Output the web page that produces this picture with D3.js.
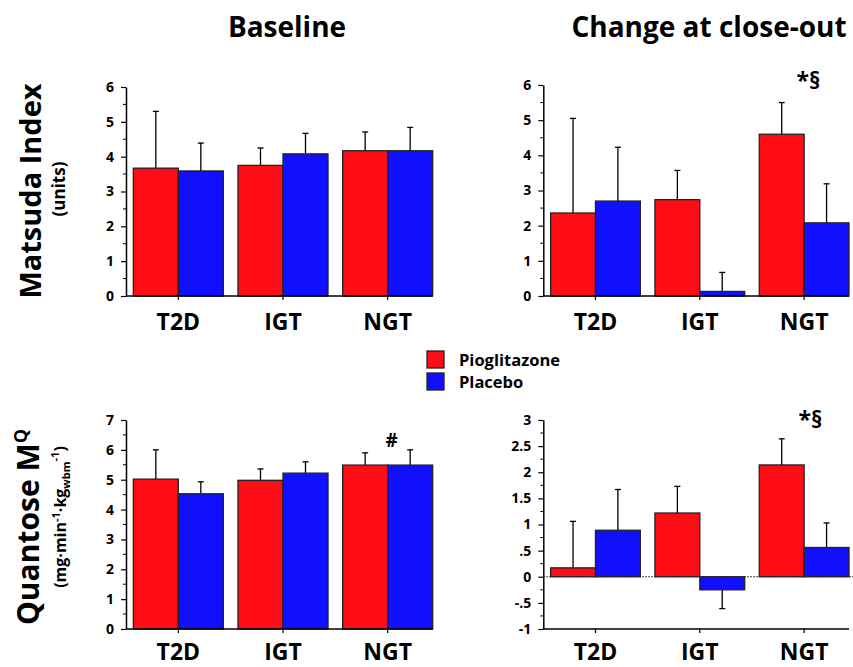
<!DOCTYPE html>
<html>
<head>
<meta charset="utf-8">
<script src="https://cdn.jsdelivr.net/npm/d3@7"></script>
<style>
  body { margin: 0; background: #fff; }
  text { font-family: "Open Sans", "Noto Sans", sans-serif; font-weight: bold; fill: #000; }
</style>
</head>
<body>
<script>
// data
var groups = ["T2D", "IGT", "NGT"];
var series = ["Pioglitazone", "Placebo"];
var colors = ["#ff0d17", "#1010ff"];

// Matsuda index (units)
var matsudaBasePio = [3.67, 3.75, 4.17];
var matsudaBasePioErr = [5.30, 4.25, 4.71];
var matsudaBasePla = [3.59, 4.08, 4.17];
var matsudaBasePlaErr = [4.39, 4.67, 4.84];

var matsudaChgPio = [2.36, 2.74, 4.60];
var matsudaChgPioErr = [5.05, 3.57, 5.50];
var matsudaChgPla = [2.70, 0.13, 2.08];
var matsudaChgPlaErr = [4.23, 0.67, 3.19];

// Quantose MQ
var quantBasePio = [5.02, 4.98, 5.49];
var quantBasePioErr = [6.00, 5.36, 5.90];
var quantBasePla = [4.53, 5.22, 5.49];
var quantBasePlaErr = [4.93, 5.60, 6.00];

var quantChgPio = [0.17, 1.22, 2.14];
var quantChgPioErr = [1.06, 1.73, 2.64];
var quantChgPla = [0.89, -0.25, 0.56];
var quantChgPlaErr = [1.67, -0.61, 1.03];

var matsudaTicks = [0, 1, 2, 3, 4, 5, 6];
var quantBaseTicks = [0, 1, 2, 3, 4, 5, 6, 7];
var quantChgTicks = [-1, -0.5, 0, 0.5, 1, 1.5, 2, 2.5, 3];

var w = 853, h = 667;

var svg = d3.select("body").append("svg")
    .attr("width", w)
    .attr("height", h);

function fmt(v)
{
    // ".5" style labels as in the original
    var s = String(v);
    return s.replace(/^0\./, ".").replace(/^-0\./, "-.");
}

function panel(opt)
{
    var x = d3.scaleBand()
        .domain(groups)
        .range([opt.x0, opt.x1])
        .paddingInner(0.14)
        .paddingOuter(0.07);

    var xs = d3.scaleBand()
        .domain(series)
        .range([0, x.bandwidth()]);

    var y = d3.scaleLinear()
        .domain(opt.domain)
        .range([opt.yBottom, opt.yTop]);

    var g = svg.append("g");

    var base = Math.max(opt.domain[0], 0);

    // zero line (dotted) when the axis goes below 0
    if (opt.domain[0] < 0) {
        g.append("line")
            .attr("x1", opt.x0).attr("x2", w)
            .attr("y1", y(0)).attr("y2", y(0))
            .attr("stroke", "#000")
            .attr("stroke-width", 1)
            .attr("stroke-dasharray", "1.5,1.5");
    }

    var rows = [];
    groups.forEach(function(grp, i) {
        rows.push({ g: grp, s: series[0], v: opt.pio[i], e: opt.pioErr[i], c: colors[0] });
        rows.push({ g: grp, s: series[1], v: opt.pla[i], e: opt.plaErr[i], c: colors[1] });
    });

    // error bars
    var eb = g.selectAll(".err")
        .data(rows)
        .enter()
        .append("g");

    eb.append("line")
        .attr("x1", function(d) { return x(d.g) + xs(d.s) + xs.bandwidth() / 2; })
        .attr("x2", function(d) { return x(d.g) + xs(d.s) + xs.bandwidth() / 2; })
        .attr("y1", function(d) { return y(d.v); })
        .attr("y2", function(d) { return y(d.e); })
        .attr("stroke", "#000")
        .attr("stroke-width", 1.3);

    eb.append("line")
        .attr("x1", function(d) { return x(d.g) + xs(d.s) + xs.bandwidth() / 2 - 3; })
        .attr("x2", function(d) { return x(d.g) + xs(d.s) + xs.bandwidth() / 2 + 3; })
        .attr("y1", function(d) { return y(d.e); })
        .attr("y2", function(d) { return y(d.e); })
        .attr("stroke", "#000")
        .attr("stroke-width", 1.3);

    // bars
    g.selectAll(".bar")
        .data(rows)
        .enter()
        .append("rect")
        .attr("x", function(d) { return x(d.g) + xs(d.s); })
        .attr("width", xs.bandwidth())
        .attr("y", function(d) { return Math.min(y(d.v), y(base)); })
        .attr("height", function(d) { return Math.abs(y(d.v) - y(base)); })
        .attr("fill", function(d) { return d.c; })
        .attr("stroke", "#222")
        .attr("stroke-width", 1.3);

    // y axis
    var yAxis = d3.axisLeft(y)
        .tickValues(opt.ticks)
        .tickFormat(fmt)
        .tickSize(5)
        .tickSizeOuter(0)
        .tickPadding(7);

    var ya = g.append("g")
        .attr("transform", "translate(" + opt.x0 + ",0)")
        .call(yAxis);
    ya.select(".domain").attr("stroke-width", 1.5);
    ya.selectAll(".tick line").attr("stroke-width", 1.2);
    ya.selectAll("text")
        .style("font-size", "14px");

    // minor ticks
    var step = opt.ticks[1] - opt.ticks[0];
    var minor = opt.ticks.slice(0, -1).map(function(t) { return t + step / 2; });
    g.selectAll(".minor")
        .data(minor)
        .enter()
        .append("line")
        .attr("x1", opt.x0 - 3).attr("x2", opt.x0)
        .attr("y1", function(d) { return y(d); })
        .attr("y2", function(d) { return y(d); })
        .attr("stroke", "#000")
        .attr("stroke-width", 1);

    // x axis
    var xAxis = d3.axisBottom(x)
        .tickSize(4)
        .tickSizeOuter(0)
        .tickPadding(14);

    var xa = g.append("g")
        .attr("transform", "translate(0," + opt.yBottom + ")")
        .call(xAxis);
    xa.select(".domain")
        .attr("d", "M" + opt.x0 + ",0H" + (x(groups[2]) + x.bandwidth()))
        .attr("stroke-width", 1.5);
    xa.selectAll(".tick line").attr("stroke-width", 1.2);
    xa.selectAll("text")
        .style("font-size", "23px")
        .attr("y", opt.labelDy)
        .attr("dy", 0);

    // significance marks
    if (opt.mark) {
        g.append("text")
            .attr("x", x(opt.mark.g) + opt.mark.dx)
            .attr("y", y(opt.mark.v))
            .attr("text-anchor", "middle")
            .style("font-size", opt.mark.size + "px")
            .text(opt.mark.t);
    }
}

panel({ x0: 126, x1: 440, yBottom: 296, yTop: 87, domain: [0, 6], ticks: matsudaTicks, labelDy: 34,
        pio: matsudaBasePio, pioErr: matsudaBasePioErr, pla: matsudaBasePla, plaErr: matsudaBasePlaErr });

panel({ x0: 543.3, x1: 856.3, yBottom: 296, yTop: 85, domain: [0, 6], ticks: matsudaTicks, labelDy: 34,
        pio: matsudaChgPio, pioErr: matsudaChgPioErr, pla: matsudaChgPla, plaErr: matsudaChgPlaErr,
        mark: { g: "NGT", dx: 49, v: 5.9, t: "*§", size: 23 } });

panel({ x0: 126, x1: 440, yBottom: 629, yTop: 420, domain: [0, 7], ticks: quantBaseTicks, labelDy: 31,
        pio: quantBasePio, pioErr: quantBasePioErr, pla: quantBasePla, plaErr: quantBasePlaErr,
        mark: { g: "NGT", dx: 49, v: 6.1, t: "#", size: 19 } });

panel({ x0: 543.3, x1: 856.3, yBottom: 629, yTop: 420, domain: [-1, 3], ticks: quantChgTicks, labelDy: 31,
        pio: quantChgPio, pioErr: quantChgPioErr, pla: quantChgPla, plaErr: quantChgPlaErr,
        mark: { g: "NGT", dx: 51, v: 2.84, t: "*§", size: 23 } });

// column titles
svg.append("text")
    .attr("x", 287).attr("y", 37)
    .attr("text-anchor", "middle")
    .style("font-size", "28px")
    .text("Baseline");

svg.append("text")
    .attr("x", 709).attr("y", 37)
    .attr("text-anchor", "middle")
    .style("font-size", "28px")
    .text("Change at close-out");

// row titles
svg.append("text")
    .attr("transform", "translate(41,191) rotate(-90)")
    .attr("text-anchor", "middle")
    .style("font-size", "29px")
    .text("Matsuda Index");

svg.append("text")
    .attr("transform", "translate(65,189) rotate(-90)")
    .attr("text-anchor", "middle")
    .style("font-size", "17px")
    .text("(units)");

var q = svg.append("text")
    .attr("transform", "translate(39,527) rotate(-90)")
    .attr("text-anchor", "middle")
    .style("font-size", "30px");
q.append("tspan").text("Quantose M");
q.append("tspan").attr("dy", -12).style("font-size", "18px").text("Q");

var u = svg.append("text")
    .attr("transform", "translate(66,517) rotate(-90)")
    .attr("text-anchor", "middle")
    .style("font-size", "16px");
u.append("tspan").text("(mg·min");
u.append("tspan").attr("dy", -6).style("font-size", "11px").text("-1");
u.append("tspan").attr("dy", 6).text("·kg");
u.append("tspan").attr("dy", 4).style("font-size", "11px").text("wbm");
u.append("tspan").attr("dy", -11).style("font-size", "11px").text("-1");
u.append("tspan").attr("dy", 7).text(")");

// legend
var leg = svg.append("g");
series.forEach(function(s, i) {
    leg.append("rect")
        .attr("x", 427).attr("y", 351 + i * 22)
        .attr("width", 17).attr("height", 17)
        .attr("fill", colors[i])
        .attr("stroke", "#222")
        .attr("stroke-width", 1.3);
    leg.append("text")
        .attr("x", 459).attr("y", 366 + i * 22)
        .style("font-size", "16.5px")
        .text(s);
});
</script>
</body>
</html>
